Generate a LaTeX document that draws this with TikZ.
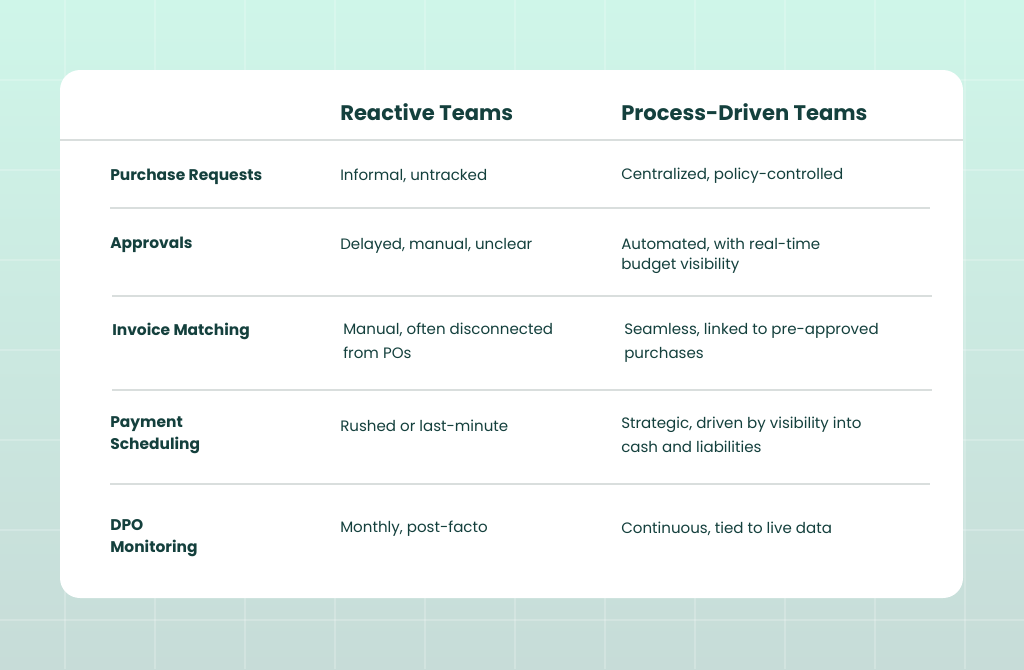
\documentclass[tikz,border=0pt]{standalone}
\usepackage{fontspec}
\setmainfont{Poppins}
\definecolor{ink}{HTML}{14403D}
\definecolor{bgtop}{HTML}{CFF6E9}
\definecolor{bgbot}{HTML}{C7DCD8}
\definecolor{rule}{HTML}{D9DEDD}
\tikzset{
  hdr/.style={anchor=west,inner sep=0pt,text=ink,font=\fontsize{15.8}{18}\selectfont\bfseries},
  lbl/.style={anchor=west,inner sep=0pt,text=ink,font=\fontsize{11.6}{16.5}\selectfont\bfseries,align=left},
  cell/.style={anchor=west,inner sep=0pt,text=ink,font=\fontsize{11.3}{15}\selectfont,align=left},
  sep/.style={draw=rule,line width=0.8pt}
}
\begin{document}
\begin{tikzpicture}[x=0.75pt,y=-0.75pt]
\useasboundingbox (0,0) rectangle (1024,669);
\shade[top color=bgtop,bottom color=bgbot] (0,0) rectangle (1024,669);
\foreach \x in {65,155,...,965} \draw[white,opacity=0.2,line width=0.8pt] (\x,0) -- (\x,669);
\foreach \y in {80,170,...,620} \draw[white,opacity=0.2,line width=0.8pt] (0,\y) -- (1024,\y);
\fill[white,rounded corners=15pt] (60,70) rectangle (963,598);
\coordinate (hl) at (60,140); \coordinate (hr) at (963,140);
\draw[draw=rule,line width=1.2pt] (hl) -- (hr);
\node[hdr] (h1) at (340,112) {Reactive Teams};
\node[hdr] (h2) at (621,112) {Process-Driven Teams};
\foreach \y/\a/\b in {208/110/930,296/112/932,390/112/932,484/110/930}
  \draw[sep] (\a,\y) -- (\b,\y);
\node[lbl] (r1) at (110,177) {Purchase Requests};
\node[cell] (r1a) at (340,176) {Informal, untracked};
\node[cell] (r1b) at (621,176) {Centralized, policy-controlled};
\node[lbl] (r2) at (110,245) {Approvals};
\node[cell] (r2a) at (340,246) {Delayed, manual, unclear};
\node[cell,anchor=north west] (r2b) at (621,238) {Automated, with real-time\\budget visibility};
\node[cell,anchor=north west,font=\fontsize{11.3}{18}\selectfont] (r3a) at (343,323) {Manual, often disconnected\\from POs};
\node[lbl] (r3) at (112,331) {Invoice Matching};
\node[cell,anchor=north west,font=\fontsize{11.3}{18}\selectfont] (r3b) at (624,323) {Seamless, linked to pre-approved\\purchases};
\node[lbl,anchor=north west] (r4) at (110,416) {Payment\\Scheduling};
\node[cell] (r4a) at (340,426) {Rushed or last-minute};
\node[cell,anchor=north west,font=\fontsize{11.3}{18}\selectfont] (r4b) at (621,417) {Strategic, driven by visibility into\\cash and liabilities};
\node[lbl,anchor=north west] (r5) at (110,519) {DPO\\Monitoring};
\node[cell] (r5a) at (340,529) {Monthly, post-facto};
\node[cell] (r5b) at (621,529) {Continuous, tied to live data};
\end{tikzpicture}
\end{document}
